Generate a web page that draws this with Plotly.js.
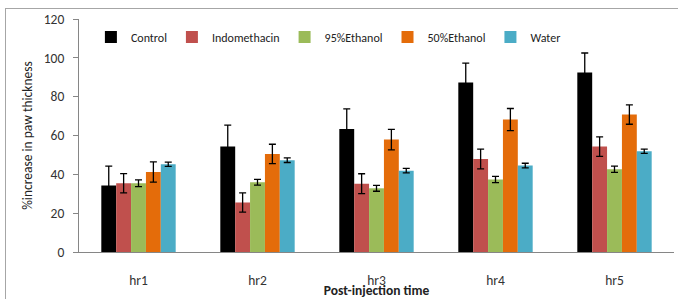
<!DOCTYPE html>
<html>
<head>
<meta charset="utf-8">
<script src="https://cdn.plot.ly/plotly-3.0.1.min.js"></script>
<style>
  html, body { margin: 0; padding: 0; background: #fff; overflow: hidden; }
  #wrap { position: relative; width: 678px; height: 299px; }
  #frame { position: absolute; left: 5px; top: 8px; width: 700px; height: 320px;
           border-left: 1.5px solid #a6a6a6; border-top: 1.5px solid #a6a6a6; pointer-events: none; }
  #chart { position: absolute; left: 0; top: 0; width: 678px; height: 299px; }
</style>
</head>
<body>
<div id="wrap">
  <div id="chart"></div>
  <div id="frame"></div>
</div>
<script>
const categories = ['hr1', 'hr2', 'hr3', 'hr4', 'hr5'];
const seriesNames = ['Control', 'Indomethacin', '95%Ethanol', '50%Ethanol', 'Water'];
const control      = [34.2, 54.3, 63.4, 87.3, 92.5];
const controlErr   = [10.0, 11.0, 10.3, 10.0, 10.0];
const indomethacin = [35.4, 25.5, 35.2, 47.9, 54.3];
const indoErr      = [5.0, 5.0, 5.1, 5.1, 5.0];
const ethanol95    = [35.4, 35.9, 32.8, 37.3, 42.6];
const eth95Err     = [1.7, 1.5, 1.5, 1.6, 1.6];
const ethanol50    = [41.2, 50.5, 57.9, 68.2, 70.8];
const eth50Err     = [5.2, 5.0, 5.3, 5.7, 5.0];
const water        = [45.2, 47.3, 41.9, 44.5, 51.9];
const waterErr     = [1.1, 1.2, 1.2, 1.2, 1.1];
const yTicks = [0, 20, 40, 60, 80, 100, 120];

const values = [control, indomethacin, ethanol95, ethanol50, water];
const errors = [controlErr, indoErr, eth95Err, eth50Err, waterErr];
const colors = ['#000000', '#C0504D', '#9BBB59', '#E46C0A', '#4BACC6'];

const FONT = 'Carlito, Lato, "Liberation Sans", sans-serif';

const traces = seriesNames.map((name, i) => ({
  type: 'bar',
  name: name,
  x: categories,
  y: values[i],
  marker: { color: colors[i], line: { width: 0 } },
  error_y: { type: 'data', array: errors[i], visible: true, color: '#000000', thickness: 1.3, width: 3.5 }
}));

const layout = {
  width: 678, height: 299,
  margin: { l: 79, r: 4, t: 19, b: 47 },
  paper_bgcolor: 'rgba(0,0,0,0)',
  plot_bgcolor: 'rgba(0,0,0,0)',
  barmode: 'group',
  bargap: 0.375,
  bargroupgap: 0,
  showlegend: true,
  legend: {
    orientation: 'h', x: 0.02, xanchor: 'left', y: 0.985, yanchor: 'top',
    font: { family: FONT, size: 12, color: '#222' },
    bgcolor: 'rgba(0,0,0,0)', traceorder: 'normal'
  },
  font: { family: FONT, color: '#333' },
  xaxis: {
    type: 'category',
    showline: true, linecolor: '#868686', linewidth: 1,
    ticks: '', showgrid: false, zeroline: false,
    tickfont: { family: FONT, size: 13.5, color: '#333' },
    ticklabelstandoff: 16,
    title: { text: 'Post-injection time', font: { family: FONT, size: 13.5, color: '#222', weight: 'bold' } }
  },
  yaxis: {
    range: [0, 120], tickvals: yTicks, ticktext: yTicks.map(String),
    showline: true, linecolor: '#868686', linewidth: 1,
    ticks: 'outside', ticklen: 5, tickcolor: '#868686',
    showgrid: false, zeroline: false,
    tickfont: { family: FONT, size: 13.5, color: '#333' },
    ticklabelstandoff: 6,
    title: { text: '%increase in paw thickness', font: { family: FONT, size: 13.5, color: '#222' }, standoff: 8 }
  }
};

Plotly.newPlot('chart', traces, layout, { displayModeBar: false, staticPlot: true });
</script>
</body>
</html>
